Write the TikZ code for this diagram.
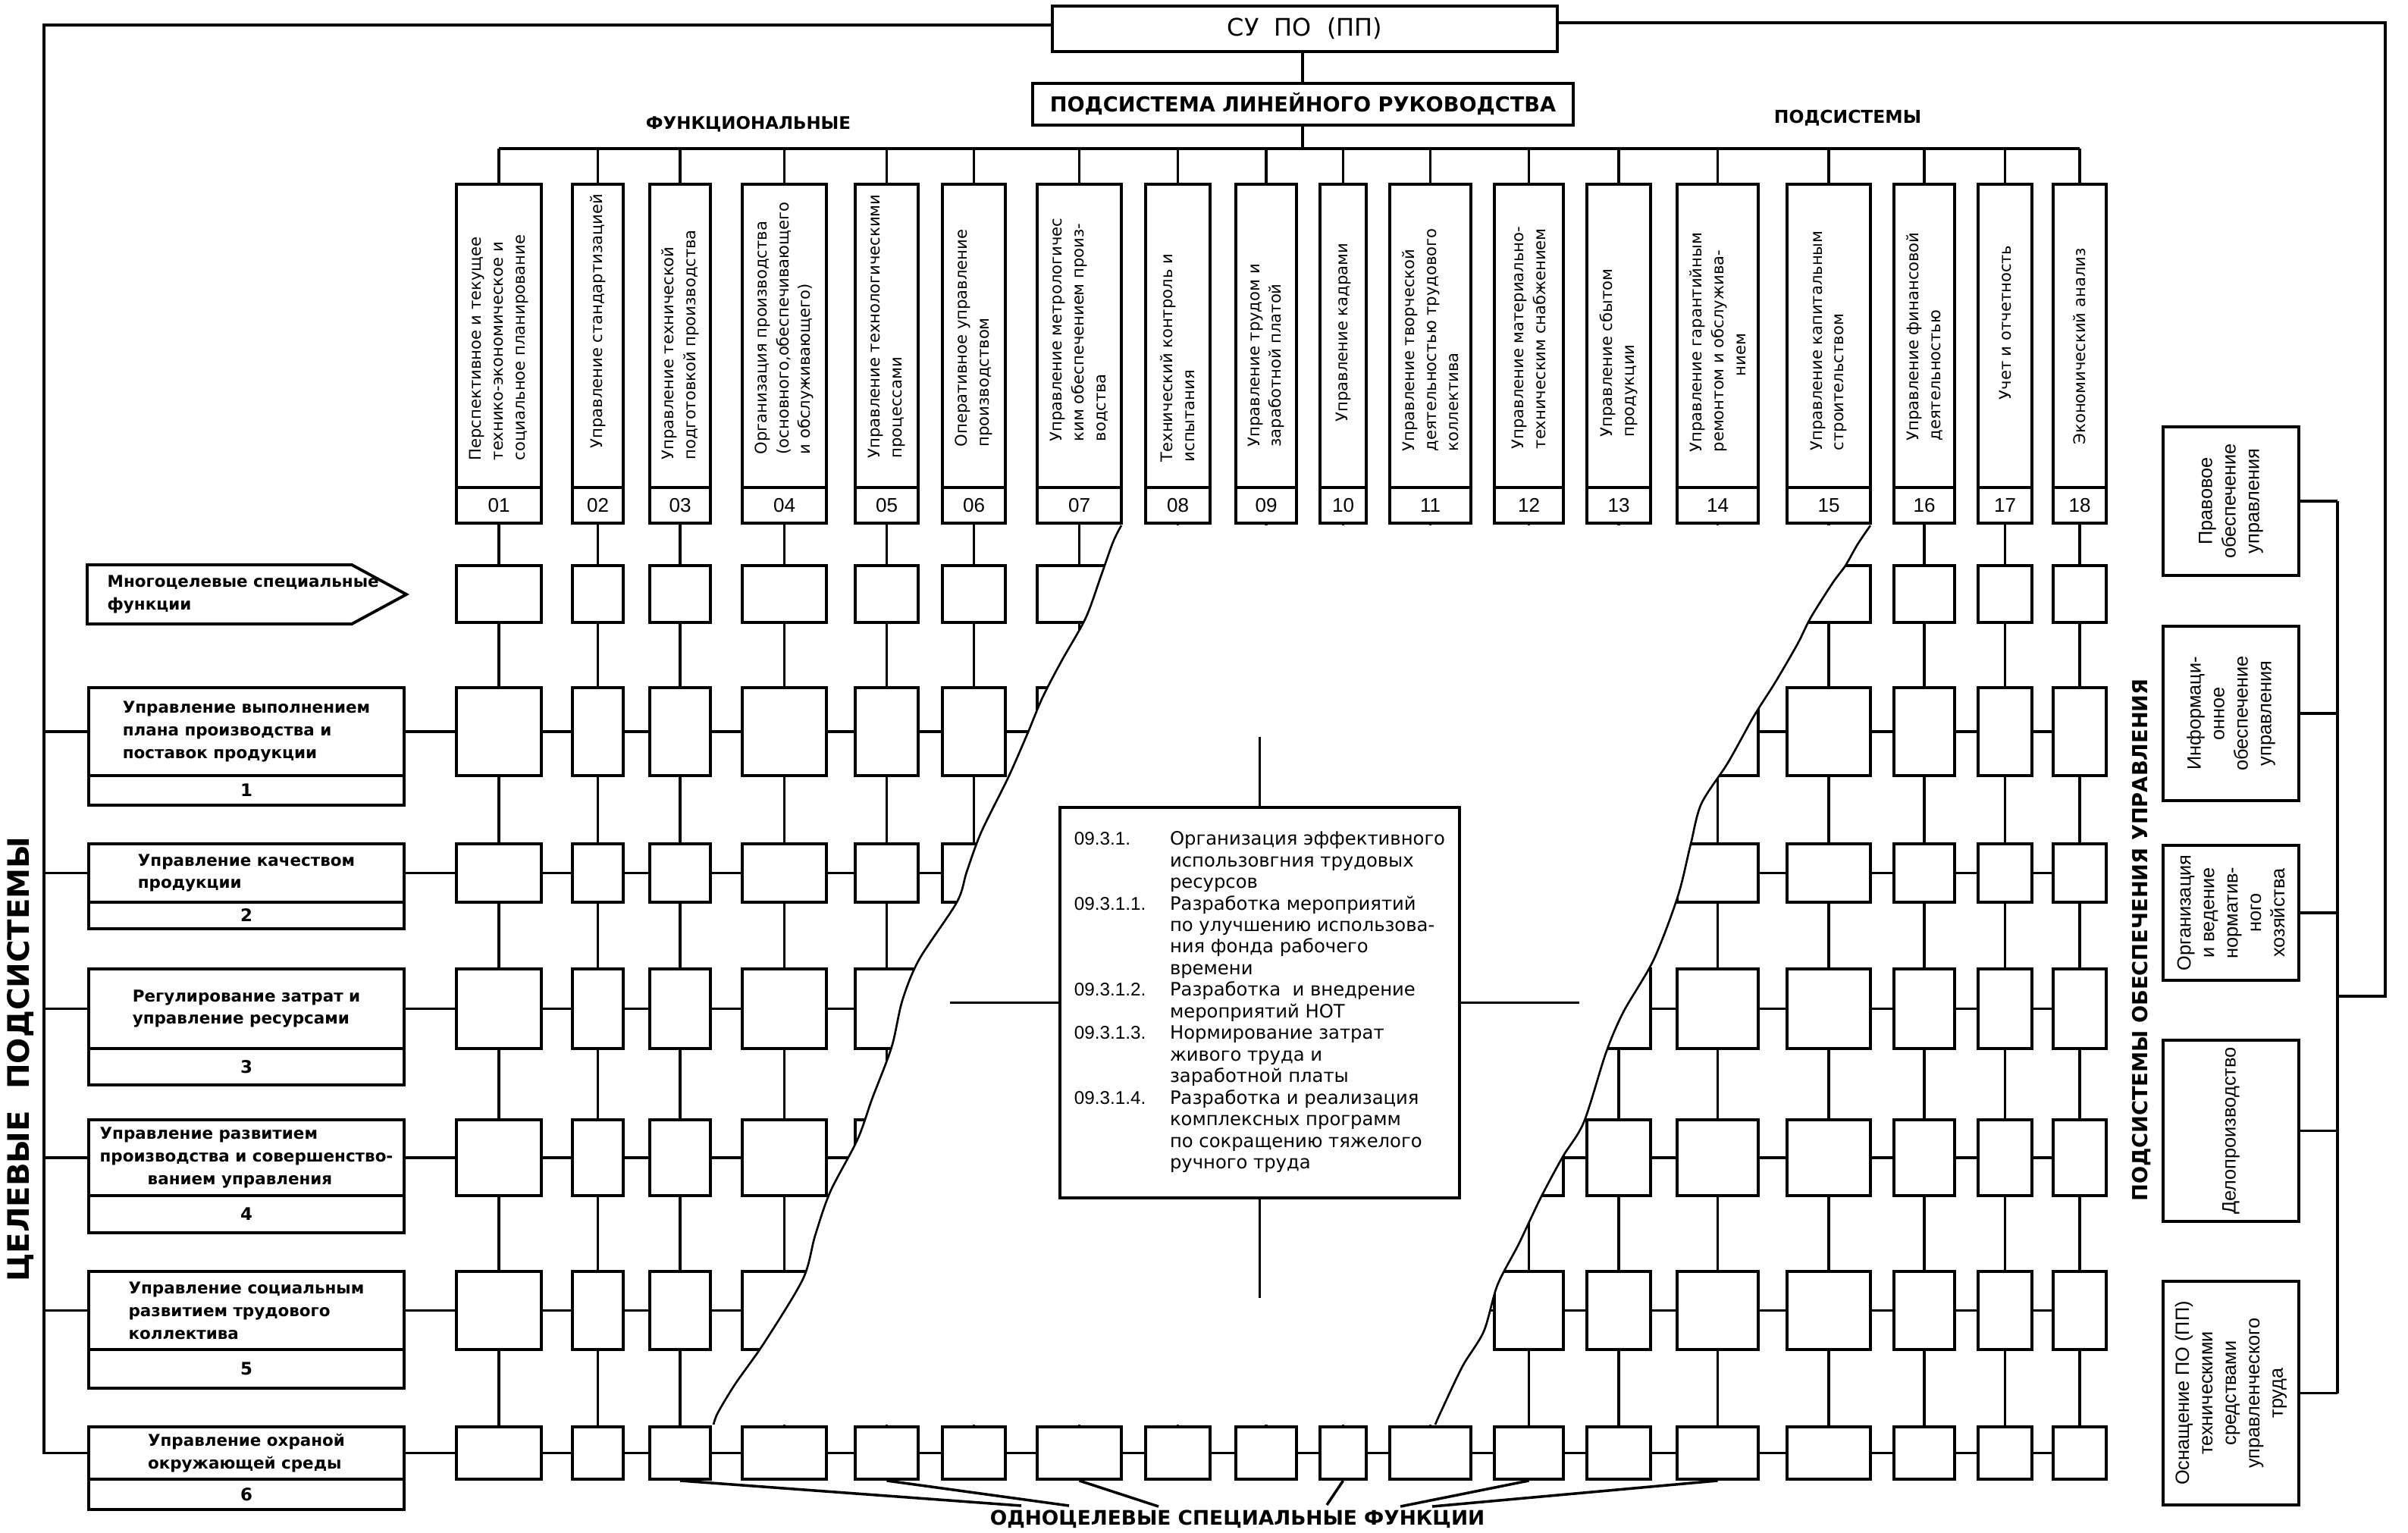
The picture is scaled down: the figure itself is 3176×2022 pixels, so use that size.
\documentclass[tikz,border=0pt]{standalone}
\usepackage{fontspec}
\usepackage{graphicx}
\setmainfont{DejaVu Sans}
\newfontfamily\lib{Liberation Sans}
\newcommand\fitw[2]{\resizebox{#1}{!}{\bfseries #2}}
\newcommand\fitwh[3]{\resizebox{#1}{#2}{\bfseries #3}}
\begin{document}
\begin{tikzpicture}[x=0.01cm,y=-0.01cm,
  box/.style={draw,line width=1.1pt,inner sep=0pt,fill=white},
  conn/.style={line width=0.9pt},
  tearline/.style={line width=0.75pt,line join=round},
  ptr/.style={line width=1pt},
  colf/.style={font=\fontsize{6.0pt}{8.2pt}\selectfont},
  rowf/.style={font=\bfseries\fontsize{6.1pt}{8.5pt}\selectfont},
  numf/.style={font=\bfseries\fontsize{6.5pt}{8pt}\selectfont},
  cnumf/.style={font=\lib\fontsize{7.4pt}{8pt}\selectfont},
  rbf/.style={font=\lib\fontsize{7.2pt}{8.8pt}\selectfont},
  detf/.style={font=\fontsize{6.9pt}{8.1pt}\selectfont}]
\useasboundingbox (0,0) rectangle (3176,2022);

% ---- top boxes
\node[box,minimum width=6.66cm,minimum height=0.6cm] (su) at (1721,38)
  {\fitw{2.04cm}{\mdseries СУ~~ПО~~(ПП)}};
\node[box,minimum width=7.13cm,minimum height=0.55cm] (pl) at (1718.5,137.5)
  {\fitw{6.67cm}{ПОДСИСТЕМА ЛИНЕЙНОГО РУКОВОДСТВА}};
\draw[conn] (su.south -| 1718,0) -- (pl.north -| 1718,0);
\coordinate (bus) at (0,196);
\draw[conn] (pl.south -| 1718,0) -- (1718,196);
\node (fl) at (987,164) {\fitw{2.7cm}{ФУНКЦИОНАЛЬНЫЕ}};
\node (pr) at (2437,156) {\fitw{1.94cm}{ПОДСИСТЕМЫ}};

% ---- columns and grid
\foreach \i/\l/\r/\s/\txt in {
 1/602/714/608/{Перспективное и текущее\\технико-экономическое и\\социальное планирование},
 2/755/822/592/{Управление стандартизацией},
 3/857/937/607/{Управление технической\\подготовкой производства},
 4/979/1090/600/{Организация производства\\(основного,обеспечивающего\\и обслуживающего)},
 5/1128/1211/605/{Управление технологическими\\процессами},
 6/1243/1326/590/{Оперативное управление\\производством},
 7/1368/1479/583/{Управление метрологичес\\ким обеспечением произ-\\водства},
 8/1511/1596/610/{Технический контроль и\\испытания},
 9/1630/1710/590/{Управление трудом и\\заработной платой},
 10/1741/1802/557/{Управление кадрами},
 11/1833/1940/596/{Управление творческой\\деятельностью трудового\\коллектива},
 12/1971/2062/593/{Управление материально-\\техническим снабжением},
 13/2093/2177/577/{Управление сбытом\\продукции},
 14/2212/2319/597/{Управление гарантийным\\ремонтом и обслужива-\\\hspace*{1cm}нием},
 15/2357/2467/595/{Управление капитальным\\строительством},
 16/2498/2578/582/{Управление финансовой\\деятельностью},
 17/2609/2680/528/{Учет и отчетность},
 18/2708/2778/587/{Экономический анализ}}{
  \pgfmathsetmacro\cx{(\l+\r)/2}
  \pgfmathsetmacro\w{(\r-\l)/100}
  \node[box,minimum width=\w cm,minimum height=4cm] (h\i) at (\cx,443) {};
  \node[box,cnumf,minimum width=\w cm,minimum height=0.47cm] (hn\i) at (\cx,666.5)
     {\ifnum\i<10 0\fi\i};
  \node[colf,rotate=90,anchor=west,align=left,inner sep=0pt] (ht\i) at (\cx,\s) {\txt};
  \foreach \j/\t/\b in {0/746/821,1/907/1023,2/1113/1190,3/1278/1383,4/1477/1577,5/1677/1780,6/1882/1951}{
    \pgfmathsetmacro\cy{(\t+\b)/2}
    \pgfmathsetmacro\hh{(\b-\t)/100}
    \node[box,minimum width=\w cm,minimum height=\hh cm] (c\i-\j) at (\cx,\cy) {};
  }
}
\draw[conn] (h1.north |- bus) -- (h18.north |- bus);
\foreach \i in {1,...,18}{
  \draw[conn] (h\i.north |- bus) -- (h\i.north);
  \draw[conn] (hn\i.south) -- (c\i-0.north);
  \foreach \j [count=\k from 1] in {0,...,5}{
    \draw[conn] (c\i-\j.south) -- (c\i-\k.north);
  }
}
\foreach \j in {1,...,6}{
  \foreach \i [count=\k from 2] in {1,...,17}{
    \draw[conn] (c\i-\j.east) -- (c\k-\j.west);
  }
}

% ---- torn region
\fill[white] plot[smooth] coordinates {(1479,693) (1468,715) (1452,760) (1432,815) (1400,872) (1375,920) (1355,968) (1330,1025) (1294,1098) (1275,1150) (1262,1190) (1212,1266) (1190,1320) (1176,1381) (1150,1450) (1131,1503) (1095,1572) (1075,1630) (1059,1687) (1008,1771) (970,1825) (947,1863) (941,1879)}
  -- plot[smooth] coordinates {(1893,1879) (1900,1863) (1929,1802) (1957,1756) (1975,1695) (2003,1641) (2032,1580) (2061,1526) (2089,1480) (2118,1389) (2141,1335) (2181,1266) (2213,1182) (2230,1113) (2244,1060) (2279,1006) (2313,945) (2342,899) (2371,849) (2388,815) (2417,769) (2434,746) (2450,718) (2467,693)} -- cycle;
\draw[tearline] plot[smooth] coordinates {(1479,693) (1468,715) (1452,760) (1432,815) (1400,872) (1375,920) (1355,968) (1330,1025) (1294,1098) (1275,1150) (1262,1190) (1212,1266) (1190,1320) (1176,1381) (1150,1450) (1131,1503) (1095,1572) (1075,1630) (1059,1687) (1008,1771) (970,1825) (947,1863) (941,1879)};
\draw[tearline] plot[smooth] coordinates {(1893,1879) (1900,1863) (1929,1802) (1957,1756) (1975,1695) (2003,1641) (2032,1580) (2061,1526) (2089,1480) (2118,1389) (2141,1335) (2181,1266) (2213,1182) (2230,1113) (2244,1060) (2279,1006) (2313,945) (2342,899) (2371,849) (2388,815) (2417,769) (2434,746) (2450,718) (2467,693)};

% ---- detail box
\node[box,detf,minimum width=5.27cm,minimum height=5.15cm] (dbox) at (1661.5,1322.5)
{\begin{tabular}{@{}p{1.26cm}@{}l@{}}
{\lib 09.3.1.} & Организация эффективного\\
 & использовгния трудовых\\
 & ресурсов\\
{\lib 09.3.1.1.} & Разработка мероприятий\\
 & по улучшению использова-\\
 & ния фонда рабочего\\
 & времени\\
{\lib 09.3.1.2.} & Разработка\ \ и внедрение\\
 & мероприятий НОТ\\
{\lib 09.3.1.3.} & Нормирование затрат\\
 & живого труда и\\
 & заработной платы\\
{\lib 09.3.1.4.} & Разработка и реализация\\
 & комплексных программ\\
 & по сокращению тяжелого\\
 & ручного труда
\end{tabular}};
\coordinate (dl) at (1253,1322.5);
\coordinate (dr) at (2083,1322.5);
\coordinate (du) at (1661.5,972);
\coordinate (dd) at (1661.5,1712);
\draw[conn] (dbox.west) -- (dl);
\draw[conn] (dbox.east) -- (dr);
\draw[conn] (dbox.north) -- (du);
\draw[conn] (dbox.south) -- (dd);

% ---- left goal subsystems
\draw[line width=1.1pt] (115,745) -- (464,745) -- (536,784) -- (464,823) -- (115,823) -- cycle;
\node[rowf,anchor=west,align=left,inner sep=0pt] (mc) at (141,784) {Многоцелевые специальные\\функции};

\foreach \j/\t/\b/\nb/\txt in {
 1/907/1023/1062/{Управление выполнением\\плана производства и\\поставок продукции},
 2/1113/1190/1225/{Управление качеством\\продукции},
 3/1278/1383/1431/{Регулирование затрат и\\управление ресурсами},
 4/1477/1577/1626/{Управление развитием\\производства и совершенство-\\\hspace*{0.63cm}ванием управления},
 5/1677/1780/1831/{Управление социальным\\развитием трудового\\коллектива},
 6/1882/1951/1991/{Управление охраной\\окружающей среды}}{
  \pgfmathsetmacro\cy{(\t+\b)/2}
  \pgfmathsetmacro\hh{(\b-\t)/100}
  \pgfmathsetmacro\ny{(\b+\nb)/2}
  \pgfmathsetmacro\nh{(\nb-\b)/100}
  \node[box,rowf,align=left,minimum width=4.15cm,minimum height=\hh cm] (g\j) at (325,\cy) {\txt};
  \node[box,numf,minimum width=4.15cm,minimum height=\nh cm] (gn\j) at (325,\ny) {\j};
}
\coordinate (TL) at (58,33);
\coordinate (TLb) at (58,1916.5);
\draw[conn] (su.west |- TL) -- (TL) -- (TLb) -- (g6.west);
\foreach \j in {1,...,5}{ \draw[conn] (TL |- g\j.west) -- (g\j.west); }
\foreach \j in {1,...,6}{ \draw[conn] (g\j.east) -- (c1-\j.west); }
\node[rotate=90] (cel) at (27,1397) {\fitwh{5.87cm}{0.29cm}{ЦЕЛЕВЫЕ~~ПОДСИСТЕМЫ}};

% ---- bottom label
\node (one) at (1632,2004) {\fitw{6.52cm}{ОДНОЦЕЛЕВЫЕ СПЕЦИАЛЬНЫЕ ФУНКЦИИ}};
\coordinate (p1) at (1347,1986);
\coordinate (p2) at (1410,1986);
\coordinate (p3) at (1528,1987);
\coordinate (p4) at (1750,1985);
\coordinate (p5) at (1847,1987);
\coordinate (p6) at (1889,1987);
\draw[ptr] (c3-6.south) -- (p1);
\draw[ptr] (c5-6.south) -- (p2);
\draw[ptr] (c7-6.south) -- (p3);
\draw[ptr] (c10-6.south) -- (p4);
\draw[ptr] (c12-6.south) -- (p5);
\draw[ptr] (c14-6.south) -- (p6);

% ---- right support subsystems
\foreach \k/\t/\b/\txt in {
 1/563/759/{Правовое\\обеспечение\\управления},
 2/826/1056/{Информаци-\\онное\\обеспечение\\управления},
 3/1115/1293/{Организация\\и ведение\\норматив-\\ного\\хозяйства},
 4/1372/1611/{Делопроизводство},
 5/1690/1985/{Оснащение ПО (ПП)\\техническими\\средствами\\управленческого\\труда}}{
  \pgfmathsetmacro\cy{(\t+\b)/2}
  \pgfmathsetmacro\hh{(\b-\t)/100}
  \node[box,minimum width=1.79cm,minimum height=\hh cm] (r\k) at (2942.5,\cy) {};
  \node[rbf,rotate=90,align=center,inner sep=0pt] (rt\k) at (r\k.center) {\txt};
}
\coordinate (rb) at (3083,0);
\coordinate (TR) at (3146,30);
\coordinate (BR) at (3146,1314);
\foreach \k in {1,...,5}{ \draw[conn] (r\k.east) -- (r\k.east -| rb); }
\draw[conn] (r1.east -| rb) -- (r5.east -| rb);
\draw[conn] (su.east |- TR) -- (TR) -- (BR) -- (BR -| rb);
\node[rotate=90] (pou) at (2824,1240) {\fitw{6.89cm}{ПОДСИСТЕМЫ ОБЕСПЕЧЕНИЯ УПРАВЛЕНИЯ}};
\end{tikzpicture}
\end{document}
